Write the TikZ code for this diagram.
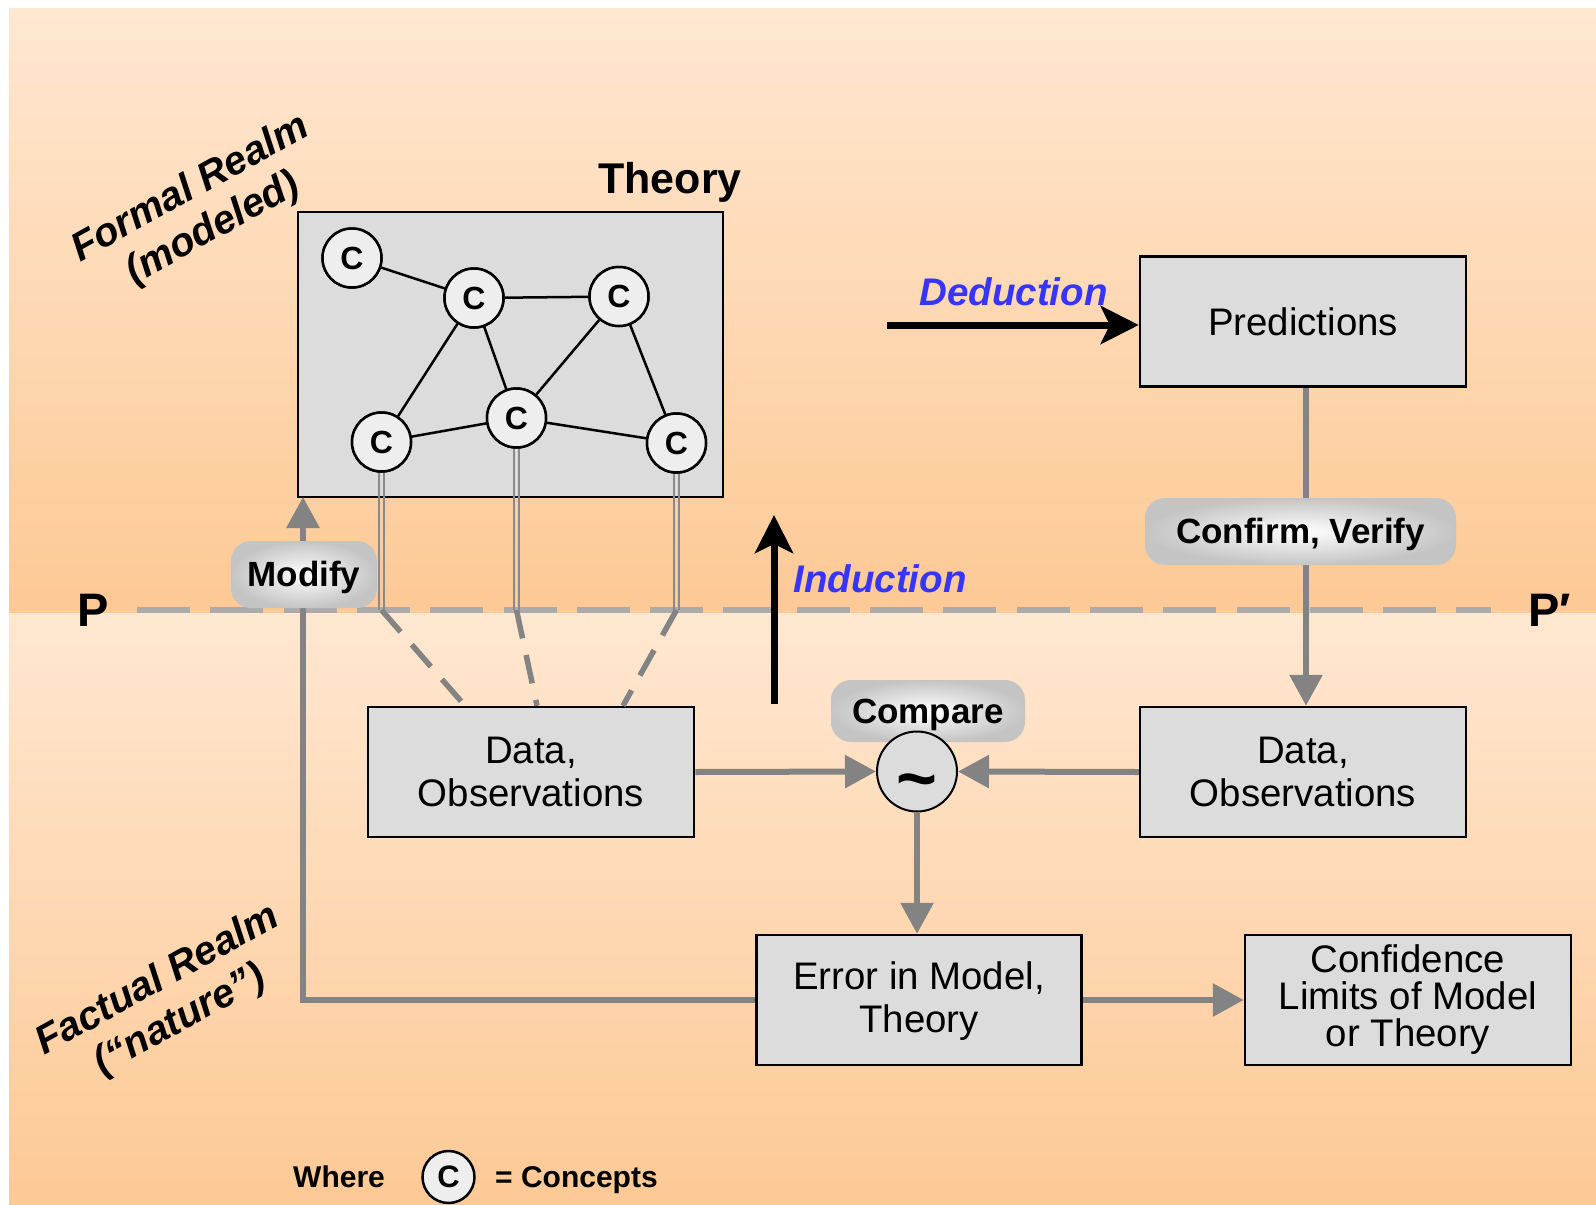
\documentclass[tikz,border=0pt]{standalone}
\usepackage{fontspec}
\setmainfont{Liberation Sans}
\usetikzlibrary{arrows.meta}
\definecolor{bglight}{HTML}{FFE7D1}
\definecolor{bgdark}{HTML}{FDC995}
\definecolor{boxgray}{HTML}{DCDCDC}
\definecolor{circgray}{HTML}{EEEEEE}
\definecolor{linegray}{HTML}{838383}
\definecolor{dashgray}{HTML}{ABABAB}
\definecolor{dblgray}{HTML}{8A8A8A}
\definecolor{blueish}{HTML}{3535FF}
\definecolor{lblouter}{HTML}{C4C4C4}
\begin{document}
\begin{tikzpicture}[x=1pt,y=-1pt,
  box/.style={draw=black,line width=2.5pt,fill=boxgray,minimum width=326pt,minimum height=130pt,
    inner sep=0pt,align=center,font=\fontsize{38.4}{43}\selectfont},
  concept/.style={circle,draw=black,line width=2.5pt,fill=circgray,minimum size=59pt,inner sep=0pt,
    font=\fontsize{32}{32}\selectfont\bfseries},
  edge/.style={black,line width=2.5pt},
  dbl/.style={dblgray,line width=2.3pt},
  diag/.style={linegray,line width=5.5pt,dash pattern=on 29pt off 17pt},
  pline/.style={dashgray,line width=6pt,dash pattern=on 53pt off 20.3pt},
  garrow/.style={linegray,line width=6pt,-{Triangle[length=31pt,width=32pt]}},
  barrow/.style={black,line width=7pt,-{Stealth[length=38pt,width=38pt,inset=9pt]}},
  lbl/.style={rounded corners=20pt,shade,inner color=white,outer color=lblouter,inner sep=0pt,
    text height=25pt,text depth=1pt,font=\fontsize{35}{40}\selectfont\bfseries},
  realm/.style={rotate=29,align=center,inner sep=0pt,font=\fontsize{40}{46}\selectfont\bfseries\itshape},
  txt/.style={inner sep=0pt}
]
\useasboundingbox (0,0) rectangle (1596,1205);
% background
\fill[top color=bglight,bottom color=bgdark] (9,8) rectangle (1596,613);
\fill[top color=bglight,bottom color=bgdark] (9,613) rectangle (1596,1205);

% P line
\coordinate (pL) at (137,610);
\coordinate (pR) at (1491,610);
\draw[pline] (pL) -- (pR);
\node[txt,anchor=base,font=\fontsize{47}{50}\selectfont\bfseries] (P) at (93.5,626) {P};
\node[txt,anchor=base,font=\fontsize{47}{50}\selectfont\bfseries] (Pp) at (1549.5,626) {P′};

% theory box
\node[draw=black,line width=2.5pt,fill=boxgray,minimum width=425pt,minimum height=285pt,inner sep=0pt] (theory) at (510.5,354.5) {};
\node[txt,anchor=base,font=\fontsize{43}{48}\selectfont\bfseries] (theorylbl) at (670,193) {Theory};

\coordinate (c1p) at (352,258);
\coordinate (c2p) at (474,298);
\coordinate (c3p) at (619,296.5);
\coordinate (c4p) at (381.5,442);
\coordinate (c5p) at (516.5,418);
\coordinate (c6p) at (676.5,443);
\foreach \i in {1,...,6} {\node[concept] (c\i) at (c\i p) {C};}
% edges
\draw[edge] (c1) -- (c2);
\draw[edge] (c2) -- (c3);
\draw[edge] (c2) -- (c4);
\draw[edge] (c2) -- (c5);
\draw[edge] (c3) -- (c5);
\draw[edge] (c3) -- (c6);
\draw[edge] (c4) -- (c5);
\draw[edge] (c5) -- (c6);

% double lines down to P line
\foreach \i in {4,5,6} {
  \coordinate (q\i) at (c\i p |- pL);
  \draw[dbl] ([xshift=-2.6pt]c\i.south) -- ([xshift=-2.6pt]q\i);
  \draw[dbl] ([xshift=2.6pt]c\i.south) -- ([xshift=2.6pt]q\i);
}
\foreach \i in {1,...,6} {\node[concept] at (c\i p) {C};}

% boxes
\node[box] (pred) at (1303,321.5) {Predictions};
\node[box] (datl) at (531,772) {Data,\\Observations};
\node[box] (datr) at (1303,772) {Data,\\Observations};
\node[box,minimum width=325pt] (err) at (919,1000) {\rule{0pt}{30pt}Error in Model,\\Theory};
\node[box,font=\fontsize{38.4}{37}\selectfont] (conf) at (1408,1000) {Confidence\\Limits of Model\\or Theory};

% dashed diagonals
\draw[diag] (q4) -- ([xshift=-66pt]datl.north);
\draw[diag] (q5) -- ([xshift=6pt]datl.north);
\draw[diag] (q6) -- ([xshift=92pt]datl.north);

% compare
\node[lbl,minimum width=194pt,minimum height=62pt] (cmplbl) at (928,711) {Compare};
\node[circle,draw=black,line width=2pt,fill=boxgray,minimum size=80pt,inner sep=0pt] (cmp) at (917,771.5) {};
\node[txt,anchor=base,font=\fontsize{70}{70}\selectfont\bfseries] (tilde) at (917,802) {\textasciitilde};

\draw[garrow] (datl.east) -- (cmp.west);
\draw[garrow] (datr.west) -- (cmp.east);
\draw[garrow] (cmp.south) -- (cmp.south |- err.north);
\draw[garrow] (err.east) -- (conf.west);

% modify path
\coordinate (mtop) at (303,497);
\draw[garrow] (err.west) -| (mtop);
\node[lbl,minimum width=146pt,minimum height=67pt] (modify) at (304,574.5) {Modify};

% predictions to data
\coordinate (pvx) at (1306,400);
\draw[garrow] (pvx |- pred.south) -- (pvx |- datr.north);
\node[lbl,minimum width=311pt,minimum height=67pt] (confirm) at (1300.5,531.5) {Confirm, Verify};

% deduction / induction
\coordinate (dedA) at (887,325);
\draw[barrow] (dedA) -- (dedA -| pred.west);
\node[txt,anchor=base,text=blueish,font=\fontsize{38.5}{40}\selectfont\bfseries\itshape] (ded) at (1013.5,305) {Deduction};
\coordinate (indA) at (774,704);
\coordinate (indB) at (774,515);
\draw[barrow] (indA) -- (indB);
\node[txt,anchor=base,text=blueish,font=\fontsize{38.5}{40}\selectfont\bfseries\itshape] (ind) at (880,592) {Induction};

% realm labels
\node[realm] (formal) at (202,209) {Formal Realm\\(modeled)};
\node[realm] (factual) at (169,1001) {Factual Realm\\(“nature”)};

% legend
\node[txt,anchor=base west,font=\fontsize{30}{32}\selectfont\bfseries] (where) at (293,1187) {Where};
\node[concept,minimum size=52pt,font=\fontsize{31}{31}\selectfont\bfseries] (lc) at (448.5,1177) {C};
\node[txt,anchor=base west,font=\fontsize{30}{32}\selectfont\bfseries] (concepts) at (495,1187) {= Concepts};
\end{tikzpicture}
\end{document}
